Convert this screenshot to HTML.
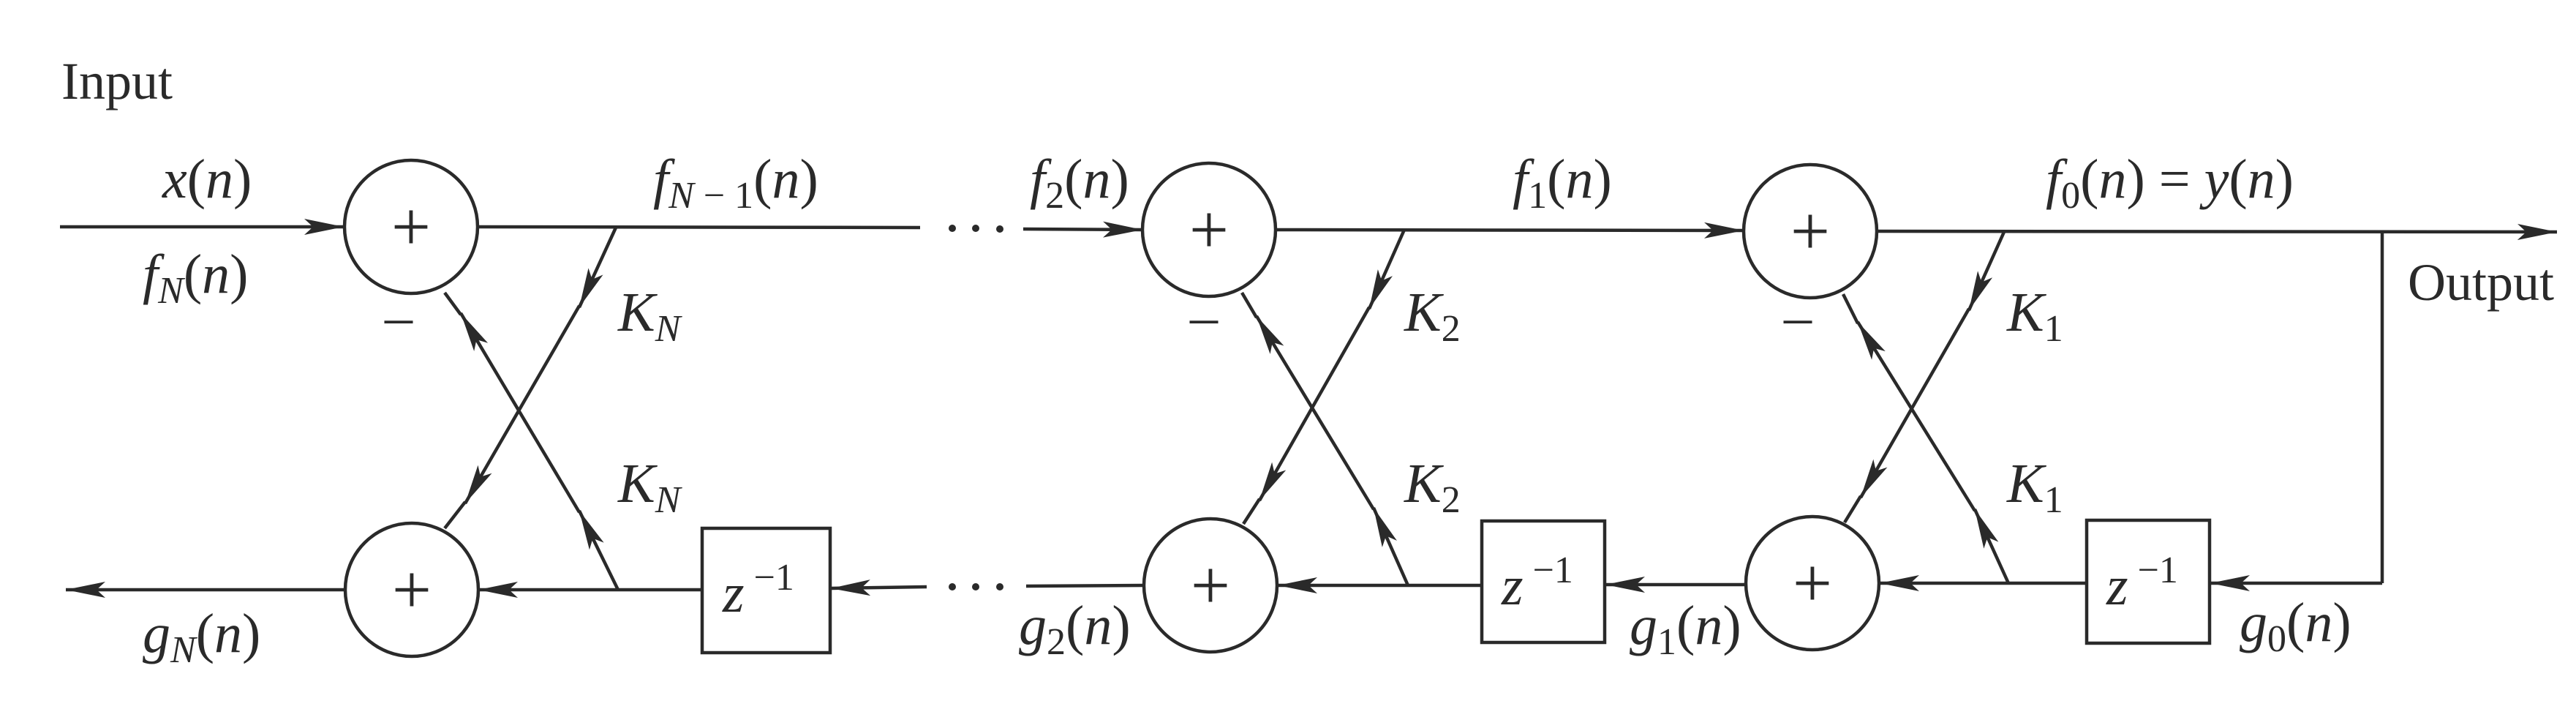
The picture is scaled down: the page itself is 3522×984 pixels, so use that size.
<!DOCTYPE html>
<html><head><meta charset="utf-8"><style>
html,body{margin:0;padding:0;background:#fff;}
svg{display:block;}
text{font-family:"Liberation Serif",serif;fill:#2a2a2a;}
.m{font-style:italic;}
</style></head><body>
<svg width="3522" height="984" viewBox="0 0 3522 984">
<defs>
<marker id="ah" viewBox="0 0 54 24" refX="54" refY="12" markerWidth="54" markerHeight="24" markerUnits="userSpaceOnUse" orient="auto">
<path d="M0,1 L54,12 L0,23 L12,12 Z" fill="#2a2a2a"/>
</marker>
</defs>
<g stroke="#2a2a2a" stroke-width="4.5" fill="none">
<!-- stage N -->
<line x1="82" y1="310" x2="470" y2="310" marker-end="url(#ah)"/>
<ellipse cx="562" cy="310" rx="91" ry="91"/>
<line x1="653" y1="310" x2="1258" y2="311"/>
<ellipse cx="563" cy="806" rx="91" ry="91"/>
<line x1="472" y1="806" x2="90" y2="806" marker-end="url(#ah)"/>
<line x1="960" y1="806" x2="654" y2="806" marker-end="url(#ah)"/>
<rect x="960" y="722" width="175" height="170"/>
<line x1="1267" y1="802" x2="1136" y2="804" marker-end="url(#ah)"/>
<line x1="842" y1="311" x2="792" y2="420" marker-end="url(#ah)"/>
<line x1="792" y1="418" x2="636" y2="688" marker-end="url(#ah)"/>
<line x1="636" y1="686" x2="608" y2="722"/>
<line x1="845" y1="806" x2="792" y2="698" marker-end="url(#ah)"/>
<line x1="792" y1="700" x2="630" y2="428" marker-end="url(#ah)"/>
<line x1="630" y1="430" x2="608" y2="400"/>
<!-- stage 2 -->
<line x1="1399" y1="313" x2="1562" y2="314" marker-end="url(#ah)"/>
<ellipse cx="1653" cy="314" rx="91" ry="91"/>
<line x1="1744" y1="314" x2="2384" y2="315" marker-end="url(#ah)"/>
<ellipse cx="1655" cy="800" rx="91" ry="91"/>
<line x1="1564" y1="800" x2="1403" y2="801"/>
<line x1="2026" y1="800" x2="1747" y2="800" marker-end="url(#ah)"/>
<rect x="2026" y="712" width="168" height="166"/>
<line x1="2386" y1="799" x2="2195" y2="799" marker-end="url(#ah)"/>
<line x1="1920" y1="314" x2="1872" y2="422" marker-end="url(#ah)"/>
<line x1="1872" y1="420" x2="1722" y2="684" marker-end="url(#ah)"/>
<line x1="1722" y1="682" x2="1700" y2="716"/>
<line x1="1925" y1="800" x2="1878" y2="694" marker-end="url(#ah)"/>
<line x1="1878" y1="696" x2="1718" y2="432" marker-end="url(#ah)"/>
<line x1="1718" y1="434" x2="1698" y2="400"/>
<!-- stage 1 -->
<ellipse cx="2475" cy="316" rx="91" ry="91"/>
<line x1="2566" y1="316" x2="3496" y2="317" marker-end="url(#ah)"/>
<line x1="3257" y1="317" x2="3257" y2="797"/>
<line x1="3257" y1="797" x2="3022" y2="797" marker-end="url(#ah)"/>
<ellipse cx="2478" cy="797" rx="91" ry="91"/>
<rect x="2853" y="711" width="168" height="168"/>
<line x1="2853" y1="797" x2="2570" y2="797" marker-end="url(#ah)"/>
<line x1="2740" y1="317" x2="2692" y2="424" marker-end="url(#ah)"/>
<line x1="2692" y1="422" x2="2544" y2="680" marker-end="url(#ah)"/>
<line x1="2544" y1="678" x2="2522" y2="714"/>
<line x1="2746" y1="797" x2="2700" y2="696" marker-end="url(#ah)"/>
<line x1="2700" y1="698" x2="2540" y2="440" marker-end="url(#ah)"/>
<line x1="2540" y1="442" x2="2520" y2="402"/>
</g>
<g fill="#2a2a2a">
<circle cx="1302" cy="312" r="5"/><circle cx="1334" cy="312" r="5"/><circle cx="1367" cy="313" r="5"/>
<circle cx="1302" cy="802" r="5"/><circle cx="1334" cy="802" r="5"/><circle cx="1367" cy="802" r="5"/>
</g>
<g font-size="76">
<text x="84" y="135" font-size="72">Input</text>
<text x="3292" y="410" font-size="72">Output</text>
<!-- plus / minus -->
<g font-size="96" text-anchor="middle">
<text x="562" y="342">+</text>
<text x="563" y="838">+</text>
<text x="1653" y="346">+</text>
<text x="1655" y="832">+</text>
<text x="2475" y="348">+</text>
<text x="2478" y="829">+</text>
</g>
<text x="545" y="458" text-anchor="middle">–</text>
<text x="1646" y="458" text-anchor="middle">–</text>
<text x="2458" y="458" text-anchor="middle">–</text>
<!-- math labels -->
<text x="222" y="270" class="m">x<tspan font-style="normal">(</tspan>n<tspan font-style="normal">)</tspan></text>
<text x="195" y="400" class="m">f<tspan font-size="52" dy="14">N</tspan><tspan dy="-14" font-style="normal">(</tspan>n<tspan font-style="normal">)</tspan></text>
<text x="893" y="270" class="m">f<tspan font-size="52" dy="14">N <tspan font-style="normal">− 1</tspan></tspan><tspan dy="-14" font-style="normal">(</tspan>n<tspan font-style="normal">)</tspan></text>
<text x="195" y="891" class="m">g<tspan font-size="52" dy="14">N</tspan><tspan dy="-14" font-style="normal">(</tspan>n<tspan font-style="normal">)</tspan></text>
<text x="845" y="452" class="m">K<tspan font-size="52" dy="14">N</tspan></text>
<text x="845" y="686" class="m">K<tspan font-size="52" dy="14">N</tspan></text>
<text x="1408" y="270" class="m">f<tspan font-size="52" dy="14" font-style="normal">2</tspan><tspan dy="-14" font-style="normal">(</tspan>n<tspan font-style="normal">)</tspan></text>
<text x="1393" y="880" class="m">g<tspan font-size="52" dy="14" font-style="normal">2</tspan><tspan dy="-14" font-style="normal">(</tspan>n<tspan font-style="normal">)</tspan></text>
<text x="1920" y="452" class="m">K<tspan font-size="52" dy="14" font-style="normal">2</tspan></text>
<text x="1920" y="686" class="m">K<tspan font-size="52" dy="14" font-style="normal">2</tspan></text>
<text x="2068" y="270" class="m">f<tspan font-size="52" dy="14" font-style="normal">1</tspan><tspan dy="-14" font-style="normal">(</tspan>n<tspan font-style="normal">)</tspan></text>
<text x="2228" y="880" class="m">g<tspan font-size="52" dy="14" font-style="normal">1</tspan><tspan dy="-14" font-style="normal">(</tspan>n<tspan font-style="normal">)</tspan></text>
<text x="2744" y="452" class="m">K<tspan font-size="52" dy="14" font-style="normal">1</tspan></text>
<text x="2744" y="686" class="m">K<tspan font-size="52" dy="14" font-style="normal">1</tspan></text>
<text x="2797" y="270" class="m">f<tspan font-size="52" dy="14" font-style="normal">0</tspan><tspan dy="-14" font-style="normal">(</tspan>n<tspan font-style="normal">) = </tspan>y<tspan font-style="normal">(</tspan>n<tspan font-style="normal">)</tspan></text>
<text x="3062" y="876" class="m">g<tspan font-size="52" dy="14" font-style="normal">0</tspan><tspan dy="-14" font-style="normal">(</tspan>n<tspan font-style="normal">)</tspan></text>
<!-- delay labels -->
<text x="988" y="836" class="m">z<tspan font-size="52" dy="-30" font-style="normal"> −1</tspan></text>
<text x="2053" y="826" class="m">z<tspan font-size="52" dy="-30" font-style="normal"> −1</tspan></text>
<text x="2880" y="826" class="m">z<tspan font-size="52" dy="-30" font-style="normal"> −1</tspan></text>
</g>
</svg>
</body></html>
